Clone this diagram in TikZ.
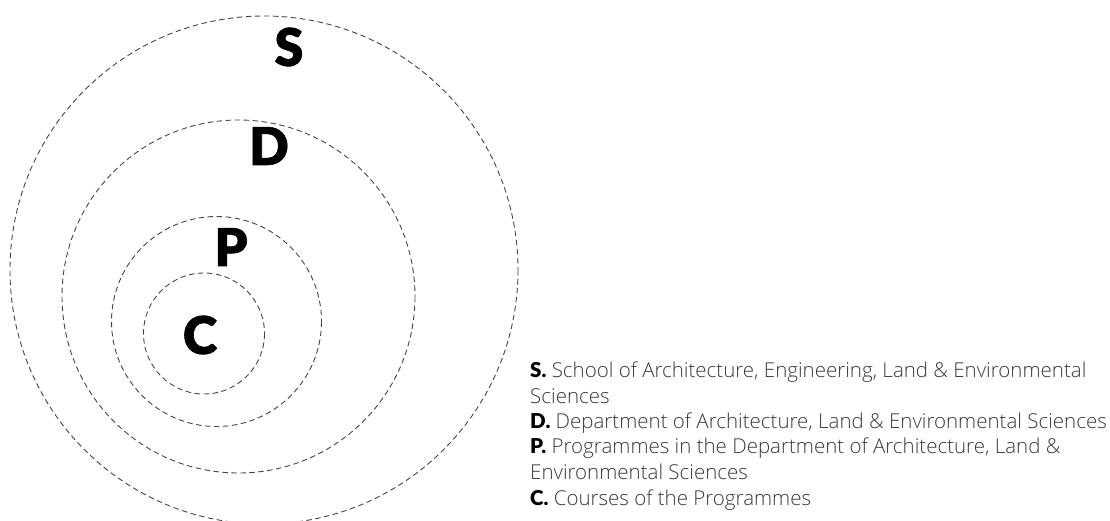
\documentclass[tikz,border=0pt]{standalone}
\usepackage{fontspec}
\setmainfont{Open Sans Light}
\newfontfamily\heavy{Lato Black}
\newfontfamily\heavier[FakeBold=1.2]{Lato Black}
\definecolor{txt}{HTML}{3A3A3A}
\definecolor{ring}{HTML}{444444}
\begin{document}
\begin{tikzpicture}[x=1pt,y=-1pt,
  ringstyle/.style={draw=ring,dashed,dash pattern=on 5.5pt off 3.5pt,line width=0.9pt},
  biglet/.style={font=\heavier\fontsize{52}{52}\selectfont,inner sep=0pt,anchor=center},
  legline/.style={anchor=base west,inner sep=0pt,text=txt,font=\fontsize{20.5}{22}\selectfont}]
\useasboundingbox (0,0) rectangle (1110,521);
\draw[ringstyle] (264,270) circle (254);
\draw[ringstyle] (238.5,296.5) circle (176.5);
\draw[ringstyle] (216.5,321.5) circle (105);
\draw[ringstyle] (204,333.5) circle (60.5);
\node[biglet] (S) at (289,47) {S};
\node[biglet] (D) at (269,146) {D};
\node[biglet] (P) at (231,247) {P};
\node[biglet] (C) at (200,335) {C};
\node[legline] (l1) at (530,377) {{\heavy\color{black}S.} School of Architecture, Engineering, Land \& Environmental};
\node[legline] (l2) at (530,403) {Sciences};
\node[legline] (l3) at (530,428) {{\heavy\color{black}D.} Department of Architecture, Land \& Environmental Sciences};
\node[legline] (l4) at (530,453) {{\heavy\color{black}P.} Programmes in the Department of Architecture, Land \&};
\node[legline] (l5) at (530,479) {Environmental Sciences};
\node[legline] (l6) at (530,505) {{\heavy\color{black}C.} Courses of the Programmes};
\end{tikzpicture}
\end{document}
